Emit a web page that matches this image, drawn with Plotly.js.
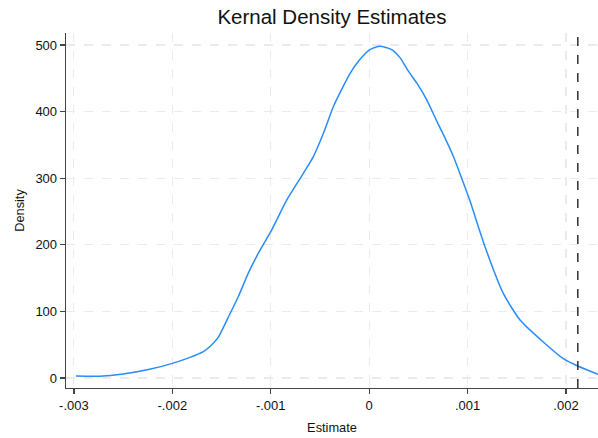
<!DOCTYPE html>
<html>
<head>
<meta charset="utf-8">
<script src="https://cdn.plot.ly/plotly-3.0.1.min.js"></script>
<style>html,body{margin:0;padding:0;background:#fff;}#chart{width:598px;height:438px;}</style>
</head>
<body>
<div id="chart"></div>
<script>
// Kernel density estimate
const estimate = [-0.00298, -0.00274, -0.00250, -0.00223, -0.00200, -0.00182, -0.00168, -0.001635, -0.001534, -0.001432, -0.001330, -0.001229, -0.001127, -0.000991, -0.000838, -0.000670, -0.000568, -0.000466, -0.000365, -0.000297, -0.000195, -0.000101, 0.000008, 0.000110, 0.000229, 0.000313, 0.000397, 0.000483, 0.000584, 0.000686, 0.000788, 0.000855, 0.000940, 0.001024, 0.001177, 0.001363, 0.001533, 0.001769, 0.001973, 0.002125, 0.002325];
const density  = [3, 2.7, 6, 13, 22, 31, 40, 45, 61, 91, 122, 157, 187, 222, 267, 307, 332, 367, 407, 428, 457, 477, 493, 498, 493, 481, 461, 443, 418, 386, 355, 333, 300, 266, 197, 127, 87, 54, 29, 17.6, 5.6];
const refLine = [0.00212];
const xTickVals = [-0.003, -0.002, -0.001, 0, 0.001, 0.002];
const xTickText = ['-.003', '-.002', '-.001', '0', '.001', '.002'];
const yTickVals = [0, 100, 200, 300, 400, 500];
const yTickText = ['0', '100', '200', '300', '400', '500'];

const font = 'Liberation Sans, Arial, Helvetica, sans-serif';

const trace = {
  x: estimate, y: density, type: 'scatter', mode: 'lines',
  line: {color: '#2a8cf7', width: 1.5, shape: 'spline', smoothing: 0.6},
  hoverinfo: 'skip', showlegend: false
};

const layout = {
  width: 598, height: 438,
  margin: {l: 66, r: 0, t: 33, b: 50},
  paper_bgcolor: '#ffffff', plot_bgcolor: '#ffffff',
  font: {family: font, color: '#111', size: 13},
  title: {text: 'Kernal Density Estimates', x: 0.555, xanchor: 'center', y: 0.978, yanchor: 'top',
          font: {family: font, size: 20.5, color: '#111'}},
  xaxis: {
    range: [-0.00308, 0.002325], tickvals: xTickVals, ticktext: xTickText,
    showline: true, linecolor: '#444', linewidth: 1.3,
    ticks: 'outside', ticklen: 5, tickcolor: '#444', tickwidth: 1.3,
    showgrid: true, gridcolor: '#ebebeb', griddash: 'dash', gridwidth: 1.2,
    zeroline: false, tickfont: {size: 13, family: font, color: '#111'},
    title: {text: 'Estimate', font: {size: 12.8, family: font, color: '#111'}, standoff: 11}
  },
  yaxis: {
    range: [-15, 518], tickvals: yTickVals, ticktext: yTickText,
    showline: true, linecolor: '#444', linewidth: 1.3,
    ticks: 'outside', ticklen: 5, tickcolor: '#444', tickwidth: 1.3,
    showgrid: true, gridcolor: '#ebebeb', griddash: 'dash', gridwidth: 1.2,
    zeroline: false, tickfont: {size: 13, family: font, color: '#111'},
    title: {text: 'Density', font: {size: 12.8, family: font, color: '#111'}, standoff: 8}
  },
  shapes: refLine.map(v => ({
    type: 'line', xref: 'x', yref: 'paper', x0: v, x1: v, y0: 0, y1: 1,
    line: {color: '#222', width: 1.4, dash: 'dash'}
  }))
};

Plotly.newPlot('chart', [trace], layout, {displayModeBar: false, staticPlot: true});
</script>
</body>
</html>
